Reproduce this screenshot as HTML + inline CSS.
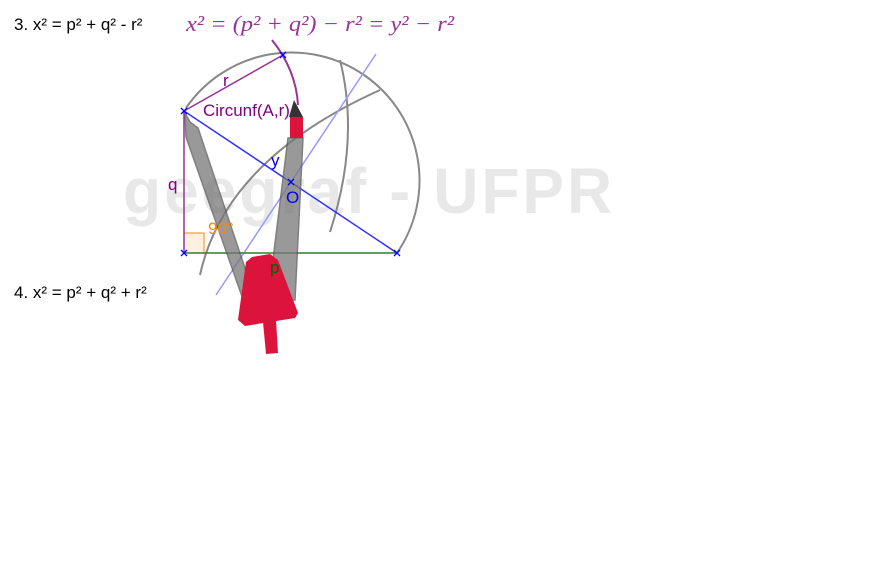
<!DOCTYPE html>
<html><head><meta charset="utf-8"><style>
body{margin:0;background:#fff;width:871px;height:561px;overflow:hidden;font-family:"Liberation Sans",sans-serif}
svg{position:absolute;left:0;top:0}
</style></head><body>
<svg width="871" height="561">
<text x="123" y="213" font-size="64" font-weight="bold" letter-spacing="3" fill="#e8e8e8" textLength="492" lengthAdjust="spacingAndGlyphs">geegraf - UFPR</text>
<text x="14" y="30" font-size="17" fill="#000">3. x² = p² + q² - r²</text>
<text x="186" y="31" font-size="22" font-style="italic" font-family="Liberation Serif,serif" fill="#993399" textLength="268" lengthAdjust="spacingAndGlyphs">x² = (p² + q²) − r² = y² − r²</text>
<text x="14" y="298" font-size="17" fill="#000">4. x² = p² + q² + r²</text>
<g fill="none" stroke="#888" stroke-width="2">
<path d="M186,108 A128,128 0 0 1 397,253"/>
<path d="M200,275 Q225,160 380,90"/>
<path d="M340,60 Q360,140 330,232"/>
</g>
<path d="M272,40 Q296,70 298,105" fill="none" stroke="#993399" stroke-width="2"/>
<line x1="216" y1="295" x2="376" y2="54" stroke="#9999ff" stroke-width="1.5"/>
<rect x="184" y="233" width="20" height="20" fill="#fff0e0" stroke="#ff8800" stroke-width="1"/>
<line x1="184" y1="111" x2="184" y2="253" stroke="#993399" stroke-width="1.5"/>
<line x1="184" y1="111" x2="283" y2="55" stroke="#993399" stroke-width="1.5"/>
<line x1="184" y1="253" x2="397" y2="253" stroke="#2e7d2e" stroke-width="1.5"/>
<line x1="184" y1="111" x2="397" y2="253" stroke="#3333ff" stroke-width="1.5"/>
<polygon points="185,113 190,122 198,128 255,298 245,305 186,137" fill="#777" stroke="#555" stroke-width="1.5" opacity="0.75"/>
<polygon points="288,138 303,138 295,300 268,300" fill="#777" stroke="#555" stroke-width="1.5" opacity="0.75"/>
<text x="208" y="234" font-size="17" fill="#ff8800">90°</text>
<polygon points="294,100 303,117 289,117" fill="#333"/>
<rect x="290" y="117" width="13" height="21" fill="#dc143c"/>
<polygon points="252,257 270,254 278,260 298,313 295,318 245,326 238,320 246,262" fill="#dc143c"/>
<polygon points="263,322 276,320 278,353 266,354" fill="#dc143c"/>
<g stroke="#0000ff" stroke-width="1.3">
<path d="M181,108l6,6M187,108l-6,6"/><path d="M181,250l6,6M187,250l-6,6"/><path d="M394,250l6,6M400,250l-6,6"/><path d="M280,52l6,6M286,52l-6,6"/><path d="M288,179l6,6M294,179l-6,6"/>
</g>
<text x="203" y="116" font-size="17" fill="#800080">Circunf(A,r)</text>
<text x="223" y="86" font-size="17" fill="#800080">r</text>
<text x="168" y="190" font-size="17" fill="#800080">q</text>
<text x="271" y="166" font-size="17" fill="#0000ff">y</text>
<text x="286" y="203" font-size="17" fill="#0000ff">O</text>
<text x="270" y="273" font-size="17" fill="#006400">p</text>
</svg>
</body></html>
